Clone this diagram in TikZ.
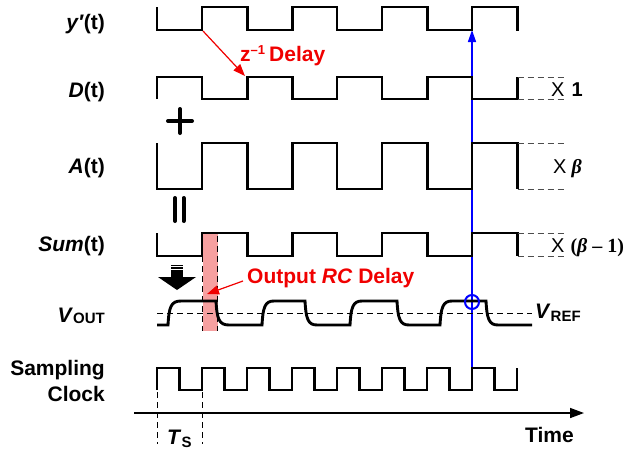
\documentclass[tikz,border=0pt]{standalone}
\usepackage{fontspec}
\setmainfont{Liberation Sans}
\newfontfamily\serifb{Liberation Serif}
\usetikzlibrary{arrows.meta}
\definecolor{pinkfill}{RGB}{246,160,160}
\definecolor{myred}{RGB}{240,0,0}
\begin{document}
\begin{tikzpicture}[x=1pt,y=-1pt,
  wave/.style={line width=2.9pt},
  thindash/.style={line width=0.9pt, dash pattern=on 6pt off 4pt, black!70},
  lbl/.style={inner sep=0pt, font=\fontsize{21}{24}\selectfont\bfseries},
  redlbl/.style={lbl, text=myred},
  xlbl/.style={inner sep=0pt, anchor=base west, font=\fontsize{20}{24}\selectfont},
  redarrow/.style={myred, line width=1.2pt, -{Triangle[length=12pt,width=9pt]}},
  signline/.style={line width=4pt, line cap=round}]
\useasboundingbox (0,0) rectangle (632,450);

% pink RC delay band
\fill[pinkfill] (202.5,233) rectangle (218,331);
\draw[line width=0.9pt, dash pattern=on 6pt off 4pt] (202.5,236) -- (202.5,331);
\draw[line width=0.9pt, dash pattern=on 6pt off 4pt] (217.5,236) -- (217.5,331);

% blue sampling instant
\coordinate (clk) at (472,367);
\coordinate (yp) at (472,30);
\draw[blue, line width=1.5pt, -{Triangle[length=12pt,width=8pt]}] (clk) -- (yp);

% left labels
\node[lbl, anchor=base east] (ylab) at (105,29.5) {\textit{y′}(t)};
\node[lbl, anchor=base east] (dlab) at (105,97) {\textit{D}(t)};
\node[lbl, anchor=base east] (alab) at (105,173) {\textit{A}(t)};
\node[lbl, anchor=base east] (slab) at (105,251.5) {\textit{Sum}(t)};
\node[lbl, anchor=base east] (vlab) at (105,322) {\textit{V}\raisebox{-1pt}{\fontsize{15}{15}\selectfont OUT}};
\node[lbl, anchor=base east] (sampl) at (105,375) {Sampling};
\node[lbl, anchor=base east] (clock) at (105,401) {Clock};

% waveforms
\draw[wave] (157,7)--(157,30)--(202,30)--(202,7)--(247.5,7)--(247.5,30)--(292.5,30)--(292.5,7)--(337,7)--(337,30)--(382,30)--(382,7)--(427.5,7)--(427.5,30)--(472,30)--(472,7)--(517.5,7)--(517.5,31);
\draw[wave] (157,99)--(157,77)--(202,77)--(202,99)--(247.5,99)--(247.5,77)--(292.5,77)--(292.5,99)--(337,99)--(337,77)--(382,77)--(382,99)--(427.5,99)--(427.5,77)--(472,77)--(472,99)--(517.5,99)--(517.5,77);
\draw[wave] (157,143)--(157,189)--(202,189)--(202,143)--(247.5,143)--(247.5,189)--(292.5,189)--(292.5,143)--(337,143)--(337,189)--(382,189)--(382,143)--(427.5,143)--(427.5,189)--(472,189)--(472,143)--(517.5,143)--(517.5,189);
\draw[wave] (157,233)--(157,256)--(202,256)--(202,233)--(247.5,233)--(247.5,256)--(292.5,256)--(292.5,233)--(337,233)--(337,256)--(382,256)--(382,233)--(427.5,233)--(427.5,256)--(472,256)--(472,233)--(517.5,233)--(517.5,256);

% V_REF dashed line
\draw[thindash, black] (157,313) -- (532,313);
% V_OUT
\draw[wave] (157,325) -- (168,325) .. controls (169,307) and (171,301) .. (181,301) -- (216,301) .. controls (217,319) and (219,325) .. (229,325) -- (262,325) .. controls (263,307) and (265,301) .. (274,301) -- (305,301) .. controls (306,319) and (308,325) .. (317,325) -- (350,325) .. controls (351,307) and (353,301) .. (362,301) -- (397,301) .. controls (398,319) and (400,325) .. (409,325) -- (440,325) .. controls (441,307) and (443,301) .. (452,301) -- (486,301) .. controls (487,319) and (489,325) .. (498,325) -- (532,325);
\node[lbl, anchor=base west] (vref) at (535,318) {\textit{V}\raisebox{-3pt}{\fontsize{15}{15}\selectfont REF}};

% sampling clock
\draw[wave] (157,390) \foreach \k in {0,...,7} { -- ({157+45*\k},368) -- ({179.5+45*\k},368) -- ({179.5+45*\k},390) -- ({202+45*\k},390) } -- (517,368);

% comparator circle
\node[circle, draw=blue, line width=2pt, minimum size=14pt, inner sep=0pt] (cmp) at (472,302) {};

% amplitude markers
\draw[thindash] (517.5,77) -- (565,77);
\draw[thindash] (517.5,99) -- (565,99);
\draw[thindash] (517.5,143) -- (565,143);
\draw[thindash] (517.5,189) -- (565,189);
\draw[thindash] (517.5,233) -- (565,233);
\draw[thindash] (517.5,256) -- (565,256);
\node[xlbl] (g1) at (551,96) {X\hspace{7pt}{\bfseries 1}};
\node[xlbl] (g2) at (553,173) {X\hspace{5pt}{\serifb\bfseries\itshape β}};
\node[xlbl] (g3) at (551,252.5) {X\hspace{6pt}{\serifb\bfseries(\textit{β} – 1)}};

% plus and equals
\draw[signline] (168,121) -- (192,121);
\draw[signline] (180,109) -- (180,133);
\draw[signline] (175,198) -- (175,221);
\draw[signline] (183.5,198) -- (183.5,221);

% fat down arrow
\fill (171,264.6) rectangle (183,265.8);
\fill (171,267.4) rectangle (183,268.8);
\fill (171,270.4) rectangle (183,277);
\fill (158,277) -- (196,277) -- (177,290) -- cycle;

% z^-1 delay
\coordinate (ysrc) at (203,31);
\coordinate (dtgt) at (245,76);
\draw[redarrow] (ysrc) -- (dtgt);
\node[redlbl, anchor=base west] (zlab) at (240,61.5) {z\raisebox{7pt}{\fontsize{13}{13}\selectfont –1}\hspace{4pt}Delay};

% output RC delay
\node[redlbl, anchor=base west] (rclab) at (247,283.5) {Output \textit{RC} Delay};
\coordinate (rcsrc) at (243,281);
\coordinate (rctgt) at (207,294);
\draw[redarrow] (rcsrc) -- (rctgt);

% time axis
\coordinate (tstart) at (134,413);
\coordinate (tend) at (584,413);
\draw[line width=1.5pt, -{Triangle[length=14pt,width=10pt]}] (tstart) -- (tend);
\node[lbl, anchor=base west] (timelab) at (525,442) {Time};
\draw[line width=0.9pt, dash pattern=on 6pt off 4pt] (157,392) -- (157,444);
\draw[line width=0.9pt, dash pattern=on 6pt off 4pt] (202,392) -- (202,444);
\node[lbl, anchor=base west] (tslab) at (167,444) {\textit{T}\raisebox{-3pt}{\fontsize{15}{15}\selectfont S}};
\end{tikzpicture}
\end{document}
